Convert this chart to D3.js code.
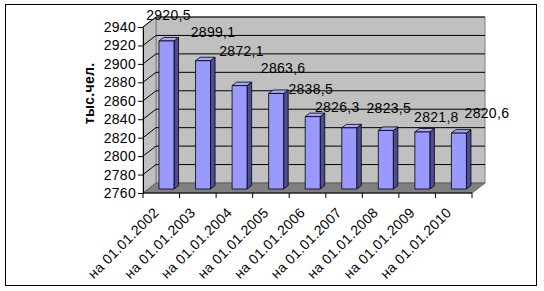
<!DOCTYPE html>
<html>
<head>
<meta charset="utf-8">
<script src="https://cdn.jsdelivr.net/npm/d3@7"></script>
<style>
  body { margin: 0; background: #fff; }
  svg text { font-family: Arial, "Liberation Sans", sans-serif; fill: #000; letter-spacing: 0.3px; }
</style>
</head>
<body>
<div id="chart"></div>
<script>
var categories = ["на 01.01.2002", "на 01.01.2003", "на 01.01.2004", "на 01.01.2005",
    "на 01.01.2006", "на 01.01.2007", "на 01.01.2008", "на 01.01.2009", "на 01.01.2010"];
var values = [2920.5, 2899.1, 2872.1, 2863.6, 2838.5, 2826.3, 2823.5, 2821.8, 2820.6];
var valueLabels = ["2920,5", "2899,1", "2872,1", "2863,6", "2838,5", "2826,3", "2823,5", "2821,8", "2820,6"];
var yTicks = [2760, 2780, 2800, 2820, 2840, 2860, 2880, 2900, 2920, 2940];
var yTitle = "тыс.чел.";

// excel puts the 3d data labels a bit off the bars, nudge them the same way
var labelNudge = [[2, -26], [10, -29], [2, -35], [7, -25], [-2, -28], [-12, -21], [3, -22], [14, -15], [28, -20]];

var cfg = {
    w: 544, h: 291,
    left: 143, right: 472, top: 27, bottom: 193,
    depthX: 13, depthY: -10,
    barFront: 0.4, barBack: 0.75,
    barWidth: 0.41,
    font: 14
};

var x = d3.scaleBand().domain(categories).range([cfg.left, cfg.right]).padding(0);
var y = d3.scaleLinear().domain([yTicks[0], yTicks[yTicks.length - 1]]).range([cfg.bottom, cfg.top]);

// screen point of (px, value) at a depth 0..1 into the chart
function P(px, v, d) {
    return [px + d * cfg.depthX, y(v) + d * cfg.depthY];
}
function poly(pts) { return pts.map(function (p) { return p.join(","); }).join(" "); }

var svg = d3.select("#chart").append("svg")
    .attr("width", cfg.w)
    .attr("height", cfg.h);

svg.append("rect")
    .attr("x", 5.5).attr("y", 4.5)
    .attr("width", 531).attr("height", 281)
    .attr("fill", "#fff").attr("stroke", "#000");

var yMin = yTicks[0], yMax = yTicks[yTicks.length - 1];
var x0 = cfg.left, x1 = cfg.right;

// walls and floor
svg.append("polygon")
    .attr("points", poly([P(x0, yMax, 1), P(x1, yMax, 1), P(x1, yMin, 1), P(x0, yMin, 1)]))
    .attr("fill", "#c0c0c0").attr("stroke", "#808080");
svg.append("polygon")
    .attr("points", poly([P(x0, yMax, 0), P(x0, yMax, 1), P(x0, yMin, 1), P(x0, yMin, 0)]))
    .attr("fill", "#c0c0c0").attr("stroke", "#808080");
svg.append("polygon")
    .attr("points", poly([P(x0, yMin, 0), P(x1, yMin, 0), P(x1, yMin, 1), P(x0, yMin, 1)]))
    .attr("fill", "#808080").attr("stroke", "#606060");

// gridlines on side and back wall
var grid = svg.append("g").attr("stroke", "#000").attr("stroke-width", 1);
yTicks.slice(1).forEach(function (t) {
    var a = P(x0, t, 0), b = P(x0, t, 1), c = P(x1, t, 1);
    grid.append("polyline").attr("fill", "none").attr("points", poly([a, b, c]));
});

// y axis
var yAxis = d3.axisLeft(y).tickValues(yTicks).tickSizeInner(5).tickSizeOuter(0).tickFormat(d3.format("d"));
svg.append("g")
    .attr("transform", "translate(" + x0 + ",0)")
    .call(function (g) {
        g.call(yAxis);
        g.selectAll("text").style("font-size", cfg.font + "px").attr("x", -7);
        g.selectAll("line, path").attr("stroke", "#000");
    });

// x axis line with ticks at category boundaries
var xa = svg.append("g").attr("stroke", "#000");
xa.append("line").attr("x1", x0).attr("x2", x1).attr("y1", y(yMin)).attr("y2", y(yMin));
categories.concat([null]).forEach(function (c) {
    var px = c === null ? x1 : x(c);
    xa.append("line").attr("x1", px).attr("x2", px).attr("y1", y(yMin)).attr("y2", y(yMin) + 5);
});

svg.selectAll(".cat")
    .data(categories)
    .enter().append("text")
    .attr("class", "cat")
    .attr("text-anchor", "end")
    .attr("dy", "0.35em")
    .style("font-size", cfg.font + "px")
    .attr("transform", function (d) {
        return "translate(" + (x(d) + x.bandwidth() / 2 - 5) + "," + (y(yMin) + 17) + ") rotate(-45)";
    })
    .text(function (d) { return d; });

// bars
var bw = x.bandwidth() * cfg.barWidth;
var bars = svg.selectAll(".bar")
    .data(values)
    .enter().append("g")
    .attr("class", "bar")
    .attr("stroke", "#000").attr("stroke-width", 0.8).attr("stroke-linejoin", "round");

bars.append("polygon")
    .attr("fill", "#4d4d8f")
    .attr("points", function (v, i) {
        var r = x(categories[i]) + (x.bandwidth() + bw) / 2;
        return poly([P(r, v, cfg.barFront), P(r, v, cfg.barBack), P(r, yMin, cfg.barBack), P(r, yMin, cfg.barFront)]);
    });
bars.append("polygon")
    .attr("fill", "#a6a6ff")
    .attr("points", function (v, i) {
        var l = x(categories[i]) + (x.bandwidth() - bw) / 2, r = l + bw;
        return poly([P(l, v, cfg.barFront), P(r, v, cfg.barFront), P(r, v, cfg.barBack), P(l, v, cfg.barBack)]);
    });
bars.append("polygon")
    .attr("fill", "#9999ff")
    .attr("points", function (v, i) {
        var l = x(categories[i]) + (x.bandwidth() - bw) / 2, r = l + bw;
        return poly([P(l, v, cfg.barFront), P(r, v, cfg.barFront), P(r, yMin, cfg.barFront), P(l, yMin, cfg.barFront)]);
    });

// data labels
svg.selectAll(".lbl")
    .data(values)
    .enter().append("text")
    .attr("class", "lbl")
    .attr("text-anchor", "middle")
    .attr("dy", "0.35em")
    .style("font-size", cfg.font + "px")
    .attr("x", function (v, i) {
        return P(x(categories[i]) + x.bandwidth() / 2, v, cfg.barFront)[0] + labelNudge[i][0];
    })
    .attr("y", function (v, i) {
        return P(0, v, cfg.barFront)[1] + labelNudge[i][1];
    })
    .text(function (v, i) { return valueLabels[i]; });

// axis title
svg.append("text")
    .attr("text-anchor", "middle")
    .attr("dy", "0.35em")
    .style("font-size", cfg.font + "px")
    .style("font-weight", "bold")
    .attr("transform", "translate(89," + y((yMin + yMax) / 2 + 18) + ") rotate(-90)")
    .text(yTitle);
</script>
</body>
</html>
